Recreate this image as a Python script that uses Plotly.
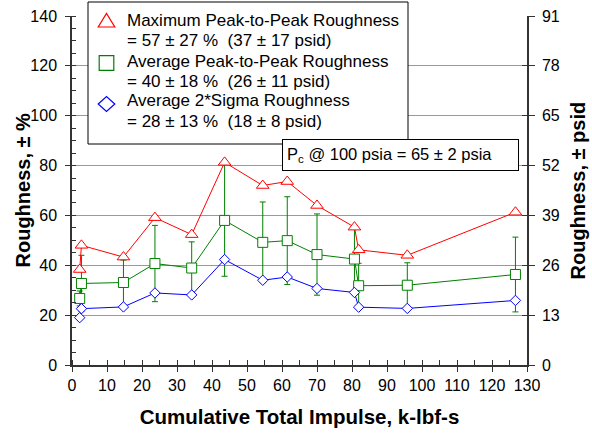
import plotly.graph_objects as go

# Cumulative total impulse (k-lbf-s) at each test
impulse = [2.2, 2.7, 14.7, 23.7, 34.2, 43.6, 54.5, 61.5, 70.0, 80.7, 81.9, 95.8, 126.7]

# Roughness, +/- % of chamber pressure
max_p2p = [38.3, 48.0, 43.3, 59.1, 52.3, 81.3, 72.0, 73.6, 64.0, 55.3, 46.2, 44.0, 61.3]
avg_p2p = [26.7, 32.7, 33.1, 40.7, 38.9, 58.0, 49.2, 49.9, 44.3, 42.5, 31.8, 32.0, 36.3]
sigma2 = [19.0, 22.6, 23.3, 28.9, 28.1, 42.3, 34.0, 35.3, 30.7, 29.1, 23.2, 22.7, 25.9]

# Spread of the average peak-to-peak roughness
avg_p2p_err = [3.0, 11.3, 9.0, 15.3, 10.5, 22.4, 16.2, 17.6, 16.3, 13.0, 9.0, 9.0, 15.0]

legend_lines = [
    "Maximum Peak-to-Peak Roughness",
    "= 57 ± 27 %\u00a0\u00a0(37 ± 17 psid)",
    "Average Peak-to-Peak Roughness",
    "= 40 ± 18 %\u00a0\u00a0(26 ± 11 psid)",
    "Average 2*Sigma Roughness",
    "= 28 ± 13 %\u00a0\u00a0(18 ± 8 psid)",
]
note_text = "P<sub>c</sub> @ 100 psia = 65 ± 2 psia"
y_title = "<b>Roughness, ± %</b>"
y2_title = "<b>Roughness, ± psid</b>"
x_title = "<b>Cumulative Total Impulse, k-lbf-s</b>"

x_ticks = list(range(0, 131, 10))
y_ticks = list(range(0, 141, 20))
psid_ticks = list(range(0, 92, 13))

RED, GREEN, BLUE = "#ff0000", "#008000", "#0000ff"
AXIS = "#333333"
FONT = "Arial, Liberation Sans, sans-serif"

# plot-area geometry in pixels
W, H = 592, 440
ML, MR, MT, MB = 72, 65, 16, 75
PW, PH = W - ML - MR, H - MT - MB


def px(xp):
    return (xp - ML) / PW


def py(yp):
    return (H - MB - yp) / PH


fig = go.Figure()

fig.add_trace(go.Scatter(
    x=impulse, y=avg_p2p, mode="lines+markers", showlegend=False,
    line=dict(color=GREEN, width=1),
    marker=dict(symbol="square", size=10, color="white",
                line=dict(color=GREEN, width=1)),
    error_y=dict(type="data", array=avg_p2p_err, symmetric=True,
                 color=GREEN, thickness=1, width=3),
))
fig.add_trace(go.Scatter(
    x=impulse, y=sigma2, mode="lines+markers", showlegend=False,
    line=dict(color=BLUE, width=1),
    marker=dict(symbol="diamond", size=8, color="white",
                line=dict(color=BLUE, width=1)),
))
fig.add_trace(go.Scatter(
    x=impulse, y=max_p2p, mode="lines+markers", showlegend=False,
    line=dict(color=RED, width=1),
    marker=dict(symbol="triangle-up", size=11, color="white",
                line=dict(color=RED, width=1)),
))

# empty traces that bring up the helper axes (psid scale, inner tick marks)
fig.add_trace(go.Scatter(x=[None], y=[None], yaxis="y2", showlegend=False))
fig.add_trace(go.Scatter(x=[None], y=[None], xaxis="x2", showlegend=False))
fig.add_trace(go.Scatter(x=[None], y=[None], yaxis="y3", showlegend=False))

# legend box with its symbols (pixel-sized paths) and two-line labels
shapes = [dict(
    type="rect", xref="paper", yref="paper", layer="above",
    x0=px(88), x1=px(408), y0=py(144), y1=py(2),
    line=dict(color="black", width=1), fillcolor="white",
)]
symbols = [
    ("M -8.3,-6.5 L 8.3,-6.5 L 0,7 Z", RED, 20.5),
    ("M -7.3,-7.3 L 7.3,-7.3 L 7.3,7.3 L -7.3,7.3 Z", GREEN, 63.0),
    ("M -8.3,0 L 0,7.5 L 8.3,0 L 0,-7.5 Z", BLUE, 104.0),
]
for path, col, yc in symbols:
    shapes.append(dict(
        type="path", xref="paper", yref="paper", layer="above",
        xsizemode="pixel", ysizemode="pixel",
        xanchor=px(106.5), yanchor=py(yc), path=path,
        line=dict(color=col, width=1.2), fillcolor="rgba(0,0,0,0)",
    ))

annotations = []
for txt, yc in zip(legend_lines, [20.7, 40.7, 61.5, 81.5, 101.0, 121.5]):
    annotations.append(dict(
        text=txt, xref="paper", yref="paper", x=px(125), y=py(yc),
        xanchor="left", yanchor="middle", showarrow=False,
        font=dict(family=FONT, size=17, color="black"),
    ))

annotations.append(dict(
    text=note_text, xref="paper", yref="paper", x=px(282), y=py(139),
    xanchor="left", yanchor="top", showarrow=False, align="left",
    width=227, height=22, valign="middle",
    font=dict(family=FONT, size=16.5, color="black"),
    bgcolor="white", bordercolor="black", borderwidth=1, borderpad=4,
))

# vertical axis titles on both sides
for txt, xc in [(y_title, 22), (y2_title, 577)]:
    annotations.append(dict(
        text=txt, xref="paper", yref="paper", x=px(xc), y=0.5,
        xanchor="center", yanchor="middle", textangle=-90, showarrow=False,
        font=dict(family=FONT, size=20, color="black"),
    ))

fig.update_layout(
    template="none",
    width=W, height=H,
    margin=dict(l=ML, r=MR, t=MT, b=MB),
    paper_bgcolor="white", plot_bgcolor="white",
    font=dict(family=FONT, size=16, color="black"),
    showlegend=False,
    shapes=shapes,
    annotations=annotations,
    xaxis=dict(
        range=[0, 130], tickvals=x_ticks, ticktext=[str(v) for v in x_ticks],
        showgrid=False, zeroline=False, automargin=False,
        showline=True, linecolor=AXIS, linewidth=1.5,
        ticks="outside", ticklen=5, tickcolor=AXIS, tickwidth=1,
        minor=dict(dtick=5, ticks="inside", ticklen=5, tickcolor=AXIS, showgrid=False),
        tickfont=dict(size=16),
        title=dict(text=x_title, font=dict(size=20.5), standoff=17),
    ),
    xaxis2=dict(
        range=[0, 130], overlaying="x", anchor="y", side="bottom",
        tickvals=x_ticks, showticklabels=False, showgrid=False, zeroline=False,
        showline=False, ticks="inside", ticklen=5, tickcolor=AXIS, automargin=False,
    ),
    yaxis=dict(
        range=[0, 140], tickvals=y_ticks, ticktext=[str(v) for v in y_ticks],
        showgrid=True, gridcolor="#999999", gridwidth=1, zeroline=False,
        automargin=False,
        showline=True, linecolor=AXIS, linewidth=1.5,
        ticks="outside", ticklen=5, tickcolor=AXIS, tickwidth=1,
        ticklabelstandoff=5,
        minor=dict(dtick=5, ticks="inside", ticklen=4, tickcolor=AXIS, showgrid=False),
        tickfont=dict(size=16),
    ),
    yaxis2=dict(
        range=[0, 91], tickvals=psid_ticks, ticktext=[str(v) for v in psid_ticks],
        overlaying="y", side="right", anchor="x", showgrid=False, zeroline=False,
        automargin=False,
        showline=True, linecolor=AXIS, linewidth=1.5,
        ticks="outside", ticklen=6, tickcolor=AXIS, tickwidth=1,
        ticklabelstandoff=4,
        tickfont=dict(size=16),
    ),
    yaxis3=dict(
        range=[0, 91], tickvals=psid_ticks, overlaying="y", side="right", anchor="x",
        showticklabels=False, showgrid=False, zeroline=False, showline=False,
        ticks="inside", ticklen=5, tickcolor=AXIS, automargin=False,
    ),
)

fig.write_html("out.html")
